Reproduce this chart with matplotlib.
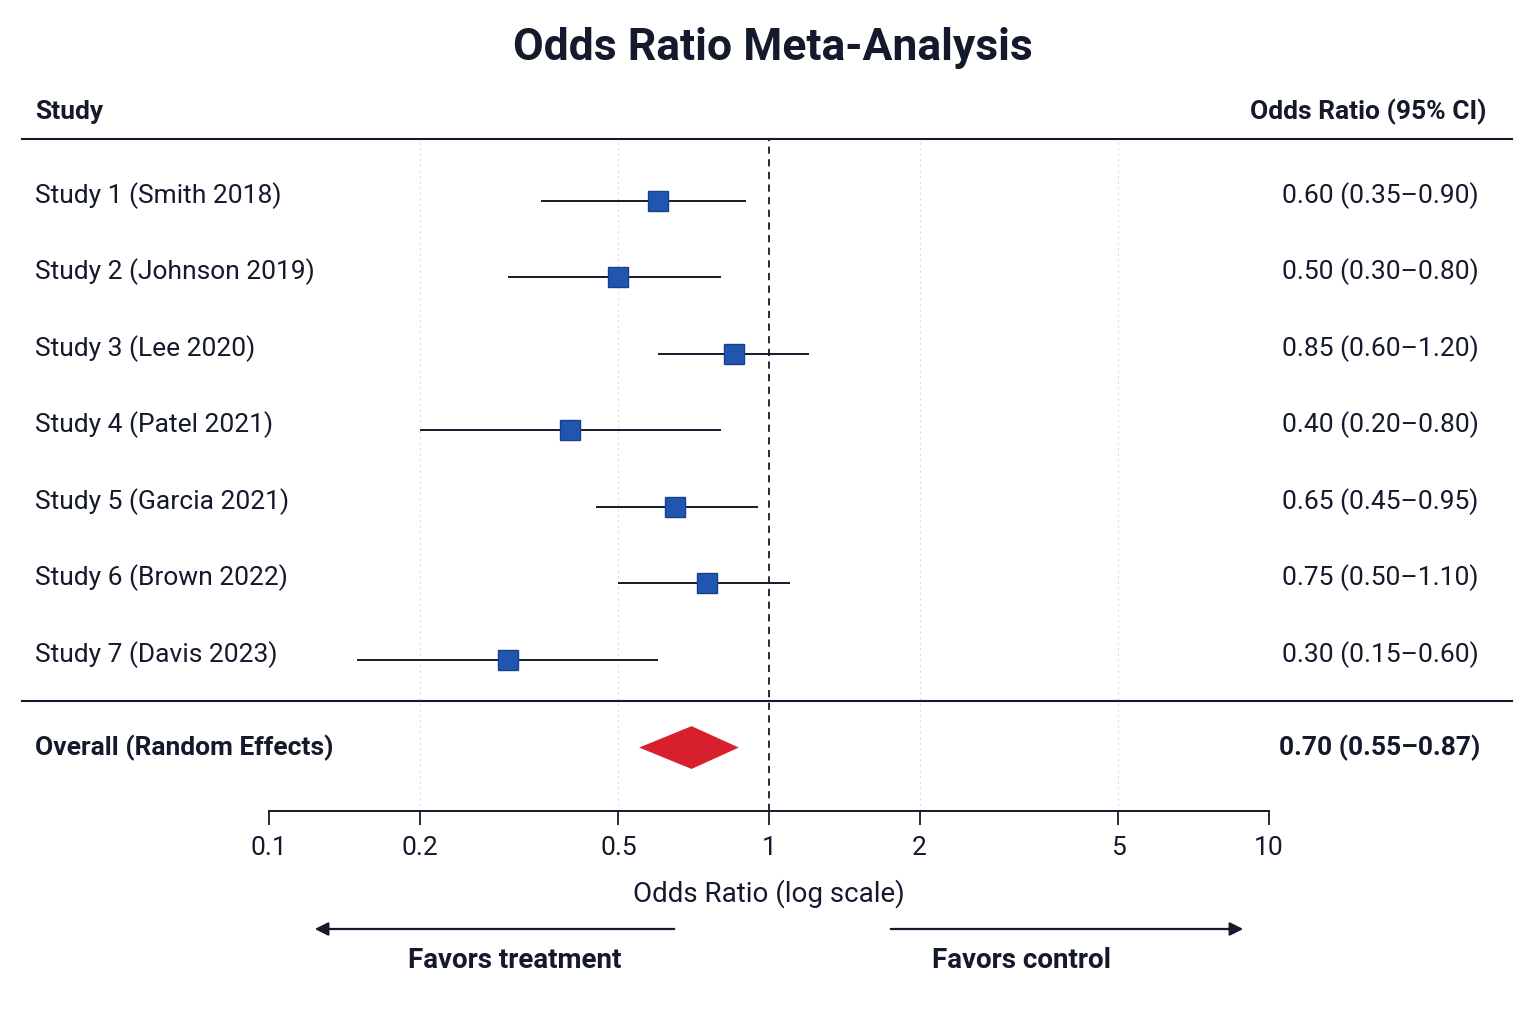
import matplotlib
matplotlib.use("Agg")
import matplotlib.pyplot as plt
import numpy as np

plt.rcParams['font.family'] = ['Roboto', 'DejaVu Sans']

# data
studies = ["Study 1 (Smith 2018)", "Study 2 (Johnson 2019)", "Study 3 (Lee 2020)",
           "Study 4 (Patel 2021)", "Study 5 (Garcia 2021)", "Study 6 (Brown 2022)",
           "Study 7 (Davis 2023)"]
odds = [0.60, 0.50, 0.85, 0.40, 0.65, 0.75, 0.30]
lower = [0.35, 0.30, 0.60, 0.20, 0.45, 0.50, 0.15]
upper = [0.90, 0.80, 1.20, 0.80, 0.95, 1.10, 0.60]
overall_label = "Overall (Random Effects)"
overall_or, overall_lo, overall_hi = 0.70, 0.55, 0.87
ticks = [0.1, 0.2, 0.5, 1, 2, 5, 10]
tick_labels = ["0.1", "0.2", "0.5", "1", "2", "5", "10"]

W, H = 1536, 1024
fig = plt.figure(figsize=(W / 100, H / 100), dpi=100)
ax = fig.add_axes([269 / W, 1 - 811 / H, 1000 / W, (811 - 139) / H])

ax.set_xscale("log")
ax.set_xlim(0.1, 10)
ax.set_ylim(7.98, -0.81)

navy = "#141a2b"
rows = np.arange(len(studies))
overall_y = 7.15

# grid
for t in [0.2, 0.5, 2, 5]:
    ax.axvline(t, color="#dddddd", lw=0.8, ls=(0, (2, 3)), zorder=0)
ax.axvline(1, color=navy, lw=1.3, ls=(0, (4, 3)), zorder=1)

# study rows
ax.hlines(rows, lower, upper, color=navy, lw=1.4, zorder=2)
ax.plot(odds, rows, ls="none", marker="s", ms=15, mfc="#2156b0",
        mec="#183f8a", mew=1, zorder=3)

# overall diamond
ax.fill([overall_lo, overall_or, overall_hi, overall_or],
        [overall_y, overall_y - 0.28, overall_y, overall_y + 0.28],
        color="#d81f2e", lw=0, zorder=3)

# separator lines
xt = ax.get_yaxis_transform()
ax.plot([-0.247, 1.243], [-0.81, -0.81], transform=xt, color=navy, lw=1.5, clip_on=False)
ax.plot([-0.247, 1.243], [6.54, 6.54], transform=xt, color=navy, lw=1.5, clip_on=False)

# text columns
for i, s in enumerate(studies):
    ax.text(-0.234, rows[i] - 0.07, s, transform=xt, ha="left", va="center",
            fontsize=19, color=navy)
    ax.text(1.111, rows[i] - 0.07, f"{odds[i]:.2f} ({lower[i]:.2f}\u2013{upper[i]:.2f})",
            transform=xt, ha="center", va="center", fontsize=19, color=navy)
ax.text(-0.234, overall_y, overall_label, transform=xt, ha="left", va="center",
        fontsize=19, fontweight="bold", color=navy)
ax.text(1.111, overall_y, f"{overall_or:.2f} ({overall_lo:.2f}\u2013{overall_hi:.2f})",
        transform=xt, ha="center", va="center", fontsize=19, fontweight="bold", color=navy)

fig.text(35 / W, 1 - 112 / H, "Study", ha="left", va="center", fontsize=19,
         fontweight="bold", color=navy)
fig.text(1487 / W, 1 - 112 / H, "Odds Ratio (95% CI)", ha="right", va="center",
         fontsize=19, fontweight="bold", color=navy)
fig.text(773 / W, 1 - 48 / H, "Odds Ratio Meta-Analysis", ha="center", va="center",
         fontsize=32, fontweight="bold", color=navy)

# axis styling
for sp in ["top", "left", "right"]:
    ax.spines[sp].set_visible(False)
ax.spines["bottom"].set_color(navy)
ax.spines["bottom"].set_linewidth(1.4)
ax.set_yticks([])
ax.set_xticks(ticks)
ax.set_xticklabels(tick_labels)
ax.minorticks_off()
ax.tick_params(axis="x", length=10, width=1.3, color=navy, labelsize=19,
               labelcolor=navy, pad=8)
ax.set_xlabel("Odds Ratio (log scale)", fontsize=20, color=navy, labelpad=14)

# favour arrows
for x0, x1 in [(677, 312), (888, 1246)]:
    fig.add_artist(matplotlib.patches.FancyArrowPatch(
        (x0 / W, 1 - 929 / H), (x1 / W, 1 - 929 / H), transform=fig.transFigure,
        arrowstyle="-|>", mutation_scale=20, lw=1.6, color=navy))
fig.text(515 / W, 1 - 961 / H, "Favors treatment", ha="center", va="center",
         fontsize=20, fontweight="bold", color=navy)
fig.text(1022 / W, 1 - 961 / H, "Favors control", ha="center", va="center",
         fontsize=20, fontweight="bold", color=navy)

fig.savefig("out.png", dpi=100, facecolor="white")
